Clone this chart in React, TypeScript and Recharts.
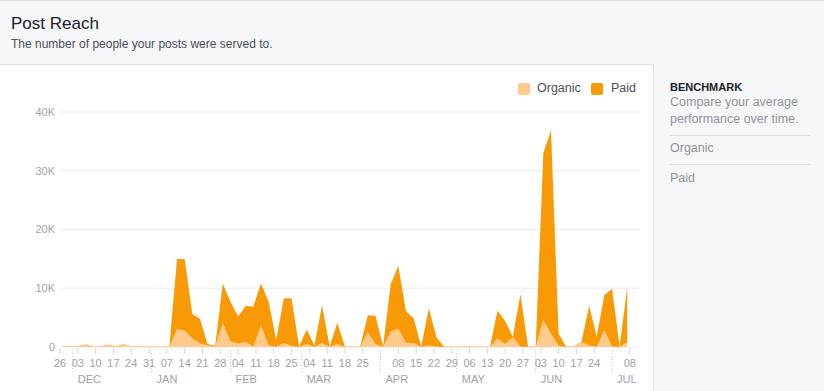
import { AreaChart, Area, XAxis, YAxis, CartesianGrid } from 'recharts';

// days counted from Sun 26 Nov 2017, one point every three days
const pointDays = [
  1, 4, 7, 10, 13, 16, 19, 22, 25, 28, 31, 34, 37, 40, 43,
  46, 49, 52, 55, 58, 61, 64, 67, 70, 73, 76, 79, 82, 85, 88,
  91, 94, 97, 100, 103, 106, 109, 112, 115, 118, 121, 124, 127, 130, 133,
  136, 139, 142, 145, 148, 151, 154, 157, 160, 163, 166, 169, 172, 175, 178,
  181, 184, 187, 190, 193, 196, 199, 202, 205, 208, 211, 214, 217, 220, 223,
];

const organic = [
  100, 100, 100, 400, 100, 100, 350, 100, 450, 100, 50, 50, 50, 50, 50,
  3050, 2800, 1500, 600, 300, 100,
  4100, 1000, 600, 900, 100, 3700, 300, 50, 700, 200, 50, 500, 50, 700,
  50, 500, 50, 50, 50, 2500, 500, 50, 2700, 3100, 700, 700, 50, 300, 100,
  50, 50, 50, 50, 50, 50, 50,
  1500, 500, 1650, 100, 50, 50, 4600, 2300, 200, 50, 50, 800, 300, 50, 2900, 100, 50, 850,
];

const paid = [
  0, 0, 0, 0, 0, 0, 0, 0, 0, 0, 0, 0, 0, 0, 0,
  11950, 12200, 4100, 4200, 200, 100,
  6700, 6700, 4600, 6100, 6800, 7100, 7400, 1150, 7600, 8100, 50, 2500, 150, 6400,
  50, 3600, 0, 0, 0, 2900, 4800, 50, 8000, 10700, 5400, 4200, 50, 6300, 1500,
  0, 0, 0, 0, 0, 0, 0,
  4700, 3900, 100, 8900, 0, 0, 28400, 34600, 2100, 0, 0, 100, 6700, 1750, 5950, 9800, 50, 9350,
];

const weekTickDays = [
  0, 7, 14, 21, 28, 35, 42, 49, 56, 63, 70, 77, 84, 91, 98, 105, 112,
  119, 126, 133, 140, 147, 154, 161, 168, 175, 182, 189, 196, 203, 210, 217, 224,
];
const weekLabels = [
  '26', '03', '10', '17', '24', '31', '07', '14', '21', '28', '04', '11', '18', '25', '04', '11', '18',
  '25', '01', '08', '15', '22', '29', '06', '13', '20', '27', '03', '10', '17', '24', '01', '08',
];
const monthStartDays = [5, 36, 67, 95, 126, 156, 187, 217];
const monthNames = ['DEC', 'JAN', 'FEB', 'MAR', 'APR', 'MAY', 'JUN', 'JUL'];

const yTicks = [0, 10000, 20000, 30000, 40000];

const data = pointDays.map((day, i) => ({ day, organic: organic[i], paid: paid[i] }));
const xTicks = Array.from(new Set([...weekTickDays, ...monthStartDays])).sort((a, b) => a - b);

const ORGANIC = '#ffca8c';
const PAID = '#f79a05';
const FONT = '"Liberation Sans", Arial, Helvetica, sans-serif';
const TICK = '#9da1a8';

const AxisTick = (props: any) => {
  const { x, y, payload } = props;
  const day = payload.value;
  const m = monthStartDays.indexOf(day);
  if (m >= 0) {
    return (
      <g>
        <line x1={x} x2={x} y1={y + 3} y2={y + 26} stroke="#bec3c9" strokeDasharray="1 2" />
        <text x={x + 5} y={y + 36} fill={TICK} fontSize={11} fontFamily={FONT}>
          {monthNames[m]}
        </text>
      </g>
    );
  }
  const w = weekTickDays.indexOf(day);
  return (
    <g>
      <line x1={x} x2={x} y1={y + 1} y2={y + 7} stroke="#d3d6db" />
      <text x={x} y={y + 20} textAnchor="middle" fill={TICK} fontSize={11} fontFamily={FONT}>
        {weekLabels[w]}
      </text>
    </g>
  );
};

const abs = (s: React.CSSProperties): React.CSSProperties => ({ position: 'absolute', ...s });

export default function App() {
  return (
    <div style={abs({ left: 0, top: 0, width: 824, height: 391, background: '#fff', fontFamily: FONT, overflow: 'hidden' })}>
      <div
        style={abs({
          left: 0, top: 0, width: 824, height: 65, boxSizing: 'border-box',
          background: '#f6f7f9', borderTop: '1px solid #dddfe2', borderBottom: '1px solid #dddfe2',
        })}
      />
      <div style={abs({ left: 11, top: 15, fontSize: 17, lineHeight: '17px', color: '#1d2129' })}>Post Reach</div>
      <div style={abs({ left: 11, top: 38, fontSize: 12, lineHeight: '12px', color: '#4b4f56' })}>
        The number of people your posts were served to.
      </div>

      <div style={abs({ left: 653, top: 64, width: 171, height: 327, background: '#f6f7f9', borderLeft: '1px solid #dddfe2' })} />
      <div style={abs({ left: 670, top: 82, fontSize: 11, lineHeight: '11px', fontWeight: 'bold', color: '#1d2129' })}>BENCHMARK</div>
      <div style={abs({ left: 670, top: 94, width: 150, fontSize: 12.5, lineHeight: '17px', color: '#90949c' })}>
        Compare your average<br />performance over time.
      </div>
      <div style={abs({ left: 670, top: 135, width: 140, height: 1, background: '#dddfe2' })} />
      <div style={abs({ left: 670, top: 140, fontSize: 12.5, lineHeight: '17px', color: '#90949c' })}>Organic</div>
      <div style={abs({ left: 670, top: 164, width: 140, height: 1, background: '#dddfe2' })} />
      <div style={abs({ left: 670, top: 169.5, fontSize: 12.5, lineHeight: '17px', color: '#90949c' })}>Paid</div>

      <AreaChart
        width={650}
        height={391}
        data={data}
        margin={{ top: 112, right: 10, bottom: 0, left: 0 }}
        style={{ position: 'absolute', left: 0, top: 0 }}
      >
        <CartesianGrid vertical={false} stroke="#ebedf0" />
        <XAxis
          dataKey="day"
          type="number"
          domain={[0, 228]}
          ticks={xTicks}
          interval={0}
          height={44}
          axisLine={false}
          tickLine={false}
          tickSize={0}
          tickMargin={0}
          tick={<AxisTick />}
        />
        <YAxis
          domain={[0, 40000]}
          ticks={yTicks}
          width={60}
          axisLine={false}
          tickLine={false}
          tickSize={0}
          tickMargin={5}
          tick={{ fill: TICK, fontSize: 11, fontFamily: FONT }}
          tickFormatter={(v: number) => (v === 0 ? '0' : `${v / 1000}K`)}
        />
        <Area type="linear" dataKey="organic" stackId="a" fill={ORGANIC} fillOpacity={1} stroke={ORGANIC} strokeWidth={1} isAnimationActive={false} />
        <Area type="linear" dataKey="paid" stackId="a" fill={PAID} fillOpacity={1} stroke="none" isAnimationActive={false} />
      </AreaChart>

      <div style={abs({ left: 518, top: 83, width: 12, height: 12, borderRadius: 2, background: ORGANIC })} />
      <div style={abs({ left: 537, top: 80, fontSize: 12.5, lineHeight: '17px', color: '#4b4f56' })}>Organic</div>
      <div style={abs({ left: 591, top: 83, width: 12, height: 12, borderRadius: 2, background: PAID })} />
      <div style={abs({ left: 611, top: 80, fontSize: 12.5, lineHeight: '17px', color: '#4b4f56' })}>Paid</div>
    </div>
  );
}
